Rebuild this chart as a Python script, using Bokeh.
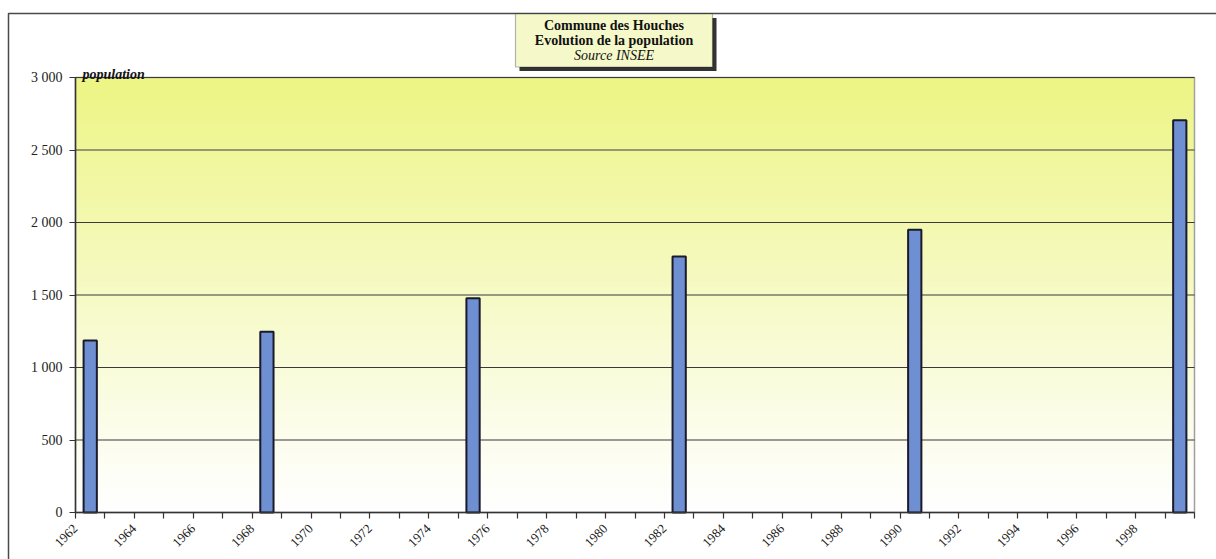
import numpy as np
from bokeh.plotting import figure
from bokeh.models import FixedTicker, Label, BoxAnnotation, Range1d, LinearAxis
from bokeh.embed import file_html
from bokeh.resources import INLINE

# ---- data ----
years = [1962, 1968, 1975, 1982, 1990, 1999]
population = [1186, 1247, 1478, 1766, 1950, 2706]
tick_years = list(range(1962, 2001))
label_years = list(range(1962, 2000, 2))
y_ticks = [0, 500, 1000, 1500, 2000, 2500, 3000]
y_tick_labels = ["0", "500", "1 000", "1 500", "2 000", "2 500", "3 000"]
title_lines = ["Commune des Houches", "Evolution de la population", "Source INSEE"]
y_title = "population"

SERIF = "Liberation Serif"
W, H = 1216, 559
# plot-area placement on the canvas (pixels)
PL, PR, PT, PB = 75, 1194, 77, 512
x0, x1 = tick_years[0], tick_years[-1]
ymin, ymax = y_ticks[0], y_ticks[-1]
sx = (PR - PL) / (x1 - x0)
sy = (PB - PT) / (ymax - ymin)


def px_to_x(px):
    return x0 + (px - PL) / sx


def px_to_y(py):
    return ymin + (PB - py) / sy


p = figure(width=W, height=H, output_backend="svg", toolbar_location=None,
           x_range=Range1d(px_to_x(0), px_to_x(W)),
           y_range=Range1d(px_to_y(H), px_to_y(0)),
           x_axis_location=None, y_axis_location=None,
           min_border=0, min_border_left=0, min_border_right=0,
           min_border_top=0, min_border_bottom=0)
p.background_fill_color = "white"
p.border_fill_color = "white"
p.outline_line_color = None
p.xgrid.visible = False
p.ygrid.visible = False

# vertical gradient background (yellow -> white) in the plot area
n = 200
t = np.linspace(0, 1, n)[:, None]
top = np.array([237, 245, 132])
bot = np.array([255, 255, 255])
rgb = bot + (top - bot) * (t ** 1.1)
img = np.zeros((n, 1), dtype=np.uint32)
view = img.view(dtype=np.uint8).reshape((n, 1, 4))
view[:, 0, 0] = rgb[:, 0]
view[:, 0, 1] = rgb[:, 1]
view[:, 0, 2] = rgb[:, 2]
view[:, 0, 3] = 255
p.image_rgba(image=[img], x=x0, y=ymin, dw=x1 - x0, dh=ymax - ymin)

# plot-area border and horizontal grid lines
p.quad(left=[x0], right=[x1], bottom=[ymin], top=[ymax], fill_color=None,
       line_color="#a0a0a0", line_width=1.5)
p.segment(x0=[x0] * (len(y_ticks) - 1), x1=[x1] * (len(y_ticks) - 1),
          y0=y_ticks[1:], y1=y_ticks[1:], line_color="#3a3a3a", line_width=1.2)

# bars (centered in their year category)
p.vbar(x=[y + 0.5 for y in years], top=population, width=0.45, bottom=0,
       fill_color="#6f8fd3", line_color="#1a1a2a", line_width=2)

# axes pinned to the plot area
yax = LinearAxis(fixed_location=x0, bounds=(ymin, ymax),
                 ticker=FixedTicker(ticks=y_ticks),
                 major_label_overrides={v: s for v, s in zip(y_ticks, y_tick_labels)})
xax = LinearAxis(fixed_location=ymin, bounds=(x0, x1),
                 ticker=FixedTicker(ticks=tick_years),
                 major_label_overrides={v: (str(v) if v in label_years else "") for v in tick_years},
                 major_label_orientation=np.pi / 4)
for ax in (xax, yax):
    ax.axis_line_color = "#333333"
    ax.axis_line_width = 1.5
    ax.major_tick_line_color = "#333333"
    ax.major_tick_line_width = 1.2
    ax.major_tick_out = 6
    ax.major_tick_in = 0
    ax.minor_tick_line_color = None
    ax.major_label_text_font = SERIF
    ax.major_label_text_color = "#222222"
yax.major_label_text_font_size = "14px"
xax.major_label_text_font_size = "13px"
xax.major_label_standoff = 8
yax.major_label_standoff = 7
p.add_layout(yax, "left")
p.add_layout(xax, "below")

# outer chart frame (left and top edges; cropped at right/bottom)
p.line(x=[px_to_x(8), px_to_x(8), px_to_x(W + 20)],
       y=[px_to_y(H + 20), px_to_y(13), px_to_y(13)],
       line_color="#4a4a4a", line_width=1.5)

# title box with shadow
BL, BR, BT, BB = 515, 712, 13.5, 66.5
p.add_layout(BoxAnnotation(left=BL + 4, right=BR + 4, top=H - BT - 4, bottom=H - BB - 4,
                           left_units="screen", right_units="screen",
                           top_units="screen", bottom_units="screen",
                           fill_color="#333333", fill_alpha=1, line_color=None))
p.add_layout(BoxAnnotation(left=BL, right=BR, top=H - BT, bottom=H - BB,
                           left_units="screen", right_units="screen",
                           top_units="screen", bottom_units="screen",
                           fill_color="#f5f8c9", fill_alpha=1, line_color="#111111",
                           line_width=1.2))

cx = (BL + BR) / 2
for txt, style, yc in zip(title_lines, ["bold", "bold", "italic"], [25, 40, 55]):
    p.add_layout(Label(x=cx, y=H - yc, x_units="screen", y_units="screen", text=txt,
                       text_font=SERIF, text_font_size="14px", text_font_style=style,
                       text_align="center", text_baseline="middle", text_color="#111111"))

p.add_layout(Label(x=82, y=H - 74, x_units="screen", y_units="screen", text=y_title,
                   text_font=SERIF, text_font_size="14px", text_font_style="bold italic",
                   text_align="left", text_baseline="alphabetic", text_color="#111111"))

open("out.html", "w").write(file_html(p, INLINE))
